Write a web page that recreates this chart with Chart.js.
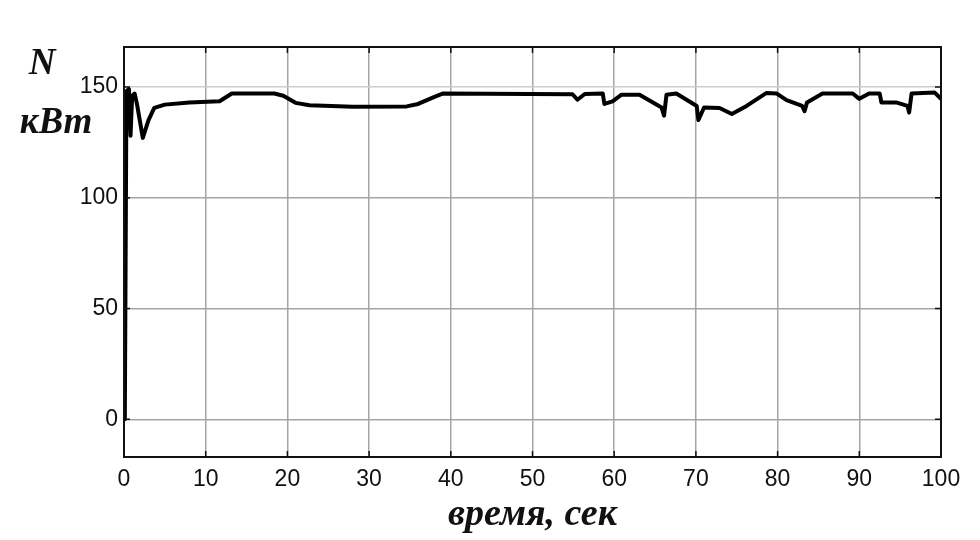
<!DOCTYPE html>
<html>
<head>
<meta charset="utf-8">
<script src="https://cdn.jsdelivr.net/npm/chart.js@4/dist/chart.umd.min.js"></script>
<style>
  html, body { margin: 0; padding: 0; background: #fff; }
  #wrap { position: relative; width: 980px; height: 540px; }
</style>
</head>
<body>
<div id="wrap"><canvas id="chart" width="980" height="540"></canvas></div>
<script>
// время, сек
const times = [0.1, 0.3, 0.6, 0.8, 1.0, 1.3, 1.6, 2.3, 3, 3.7, 5, 8, 11.7, 13.2, 18.4, 19.5, 21, 22.7, 28, 34.6, 36, 38, 39,
  54.9, 55.5, 56.4, 58.6, 58.8, 59.8, 60.9, 63.1, 65.8, 66.1, 66.4, 67.6, 70.1, 70.3, 71, 72.9, 74.4, 76.2, 78.6,
  79.9, 81.1, 83, 83.3, 83.6, 85.5, 89.2, 90, 91.2, 92.5, 92.7, 94.5, 95.9, 96.1, 96.4, 99.2, 100];
// N, кВт
const power = [0, 148, 149, 128, 146, 147, 142, 127, 135, 140.5, 142, 143, 143.5, 147, 147, 146, 142.8, 141.7, 141, 141.2, 142.3, 145.5, 147,
  146.7, 144.2, 146.8, 147, 142.3, 143.5, 146.5, 146.5, 140.7, 137, 146.5, 147, 141.4, 135, 140.7, 140.5, 137.8, 141.4, 147.2,
  147, 144, 141.4, 139, 143, 147, 147, 144.6, 147, 147, 143, 143, 141.4, 138.4, 147, 147.5, 144.6];
const xTicks = [0, 10, 20, 30, 40, 50, 60, 70, 80, 90, 100];
const yTicks = [0, 50, 100, 150];

const points = times.map((t, i) => ({ x: t, y: power[i] }));

const framePlugin = {
  id: "frame",
  afterDraw(chart) {
    const { ctx, chartArea: a, scales } = chart;
    ctx.save();
    ctx.strokeStyle = "#111";
    ctx.lineWidth = 1.5;
    ctx.beginPath();
    xTicks.forEach((v) => {
      const px = scales.x.getPixelForValue(v);
      ctx.moveTo(px, a.bottom); ctx.lineTo(px, a.bottom - 6);
      ctx.moveTo(px, a.top); ctx.lineTo(px, a.top + 6);
    });
    yTicks.forEach((v) => {
      const py = scales.y.getPixelForValue(v);
      ctx.moveTo(a.left, py); ctx.lineTo(a.left + 6, py);
      ctx.moveTo(a.right, py); ctx.lineTo(a.right - 6, py);
    });
    ctx.stroke();
    ctx.lineWidth = 2;
    ctx.strokeRect(a.left, a.top, a.right - a.left, a.bottom - a.top);
    ctx.fillStyle = "#111";
    ctx.font = "italic bold 37px 'Liberation Serif', 'DejaVu Serif', serif";
    ctx.textAlign = "center";
    ctx.textBaseline = "middle";
    ctx.fillText("N", 42, 64);
    ctx.fillText("кВт", 56, 123);
    ctx.restore();
  },
};

new Chart(document.getElementById("chart"), {
  type: "line",
  data: {
    datasets: [
      {
        data: points,
        borderColor: "#000",
        borderWidth: 4,
        borderJoinStyle: "round",
        borderCapStyle: "round",
        pointRadius: 0,
        tension: 0,
        fill: false,
      },
    ],
  },
  options: {
    responsive: false,
    animation: false,
    layout: { padding: { top: 47, right: 39, left: 0, bottom: 2 } },
    plugins: { legend: { display: false }, tooltip: { enabled: false } },
    scales: {
      x: {
        type: "linear",
        min: 0,
        max: 100,
        afterBuildTicks: (s) => { s.ticks = xTicks.map((v) => ({ value: v })); },
        afterFit: (s) => { s.height = 81; },
        grid: { color: "#a5a5a5", lineWidth: 1.5, drawTicks: false },
        border: { display: false },
        ticks: {
          color: "#111",
          padding: 9,
          maxRotation: 0,
          font: { family: "'Liberation Sans', Arial, sans-serif", size: 23 },
        },
        title: {
          display: true,
          text: "время, сек",
          color: "#111",
          padding: { top: 0, bottom: 0 },
          font: { family: "'Liberation Serif', 'DejaVu Serif', serif", size: 38, style: "italic", weight: "bold" },
        },
      },
      y: {
        min: -17,
        max: 168,
        afterBuildTicks: (s) => { s.ticks = yTicks.map((v) => ({ value: v })); },
        afterFit: (s) => { s.width = 124; },
        grid: {
          color: (c) => (c.tick && c.tick.value === 150 ? "#cdcdcd" : "#a5a5a5"),
          lineWidth: 1.5,
          drawTicks: false,
        },
        border: { display: false },
        ticks: {
          color: "#111",
          padding: 6,
          font: { family: "'Liberation Sans', Arial, sans-serif", size: 23 },
        },
      },
    },
  },
  plugins: [framePlugin],
});
</script>
</body>
</html>
